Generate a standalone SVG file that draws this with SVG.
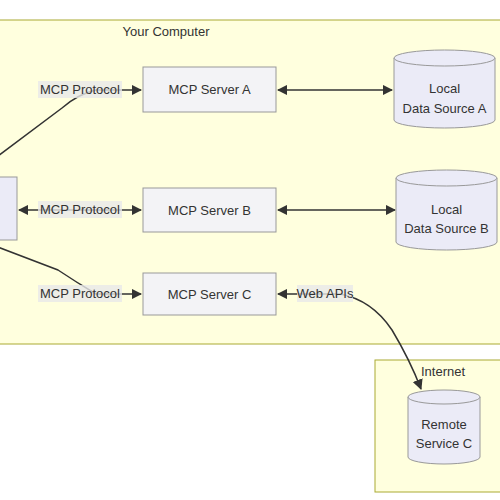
<svg xmlns="http://www.w3.org/2000/svg" width="500" height="500" viewBox="0 0 500 500">
<style>
text{font-family:"Liberation Sans",Arial,sans-serif;font-size:13px;fill:#333;text-anchor:middle;dominant-baseline:central}
.cluster{fill:#ffffde;stroke:#aaaa33;stroke-width:1}
.node{fill:#f3f3f6;stroke:#999;stroke-width:1}
.db{fill:#ebebf7;stroke:#999;stroke-width:1}
.edge{fill:none;stroke:#333;stroke-width:1.5}
.lbl{fill:#e8e8e8;fill-opacity:0.8;stroke:none}
</style>
<defs>
<marker id="end" viewBox="0 0 10 10" refX="9" refY="5" markerWidth="7" markerHeight="7" orient="auto"><path d="M0,0 L10,5 L0,10 z" fill="#333"/></marker>
<marker id="start" viewBox="0 0 10 10" refX="1" refY="5" markerWidth="7" markerHeight="7" orient="auto"><path d="M10,0 L0,5 L10,10 z" fill="#333"/></marker>
</defs>
<rect width="500" height="500" fill="#fff"/>
<g id="cluster-computer">
<rect class="cluster" x="-5" y="20" width="515" height="324"/>
<text x="166" y="31">Your Computer</text>
</g>
<g id="cluster-internet">
<rect class="cluster" x="375" y="360" width="135" height="132"/>
<text x="443" y="371">Internet</text>
</g>
<g id="connectors">
<path class="edge" d="M-10,162 L62,108 Q78,94 96,90 L141,90" marker-end="url(#end)"/>
<path class="edge" d="M19,210 L141,210" marker-start="url(#start)" marker-end="url(#end)"/>
<path class="edge" d="M-10,244 L58,270 Q76,282 96,294 L141,294" marker-end="url(#end)"/>
<path class="edge" d="M278,90 L392,90" marker-start="url(#start)" marker-end="url(#end)"/>
<path class="edge" d="M278,210 L395,210" marker-start="url(#start)" marker-end="url(#end)"/>
<path class="edge" d="M278,294 L340,294 Q372,300 392,330 Q410,360 421,389" marker-start="url(#start)" marker-end="url(#end)"/>
<rect class="lbl" x="38" y="81" width="84" height="17"/>
<text x="80" y="89.5">MCP Protocol</text>
<rect class="lbl" x="38" y="201" width="84" height="17"/>
<text x="80" y="209.5">MCP Protocol</text>
<rect class="lbl" x="38" y="285" width="84" height="17"/>
<text x="80" y="293.5">MCP Protocol</text>
<rect class="lbl" x="297" y="285" width="56" height="17"/>
<text x="325" y="293.5">Web APIs</text>
</g>
<g id="host">
<rect class="db" x="-10" y="177" width="27" height="63"/>
</g>
<g id="serverA">
<rect class="node" x="143" y="67" width="133" height="45"/>
<text x="209.5" y="89.5">MCP Server A</text>
</g>
<g id="serverB">
<rect class="node" x="143" y="188" width="133" height="44"/>
<text x="209.5" y="210">MCP Server B</text>
</g>
<g id="serverC">
<rect class="node" x="143" y="273" width="133" height="42"/>
<text x="209.5" y="294">MCP Server C</text>
</g>
<g id="dataA">
<path class="db" d="M394,58 a50.5,8 0 0 1 101,0 v62 a50.5,8 0 0 1 -101,0 z"/>
<path class="db" d="M394,58 a50.5,8 0 0 0 101,0" fill="none"/>
<text x="444.5" y="88">Local</text>
<text x="444.5" y="108">Data Source A</text>
</g>
<g id="dataB">
<path class="db" d="M396,178 a50.5,8 0 0 1 101,0 v64 a50.5,8 0 0 1 -101,0 z"/>
<path class="db" d="M396,178 a50.5,8 0 0 0 101,0" fill="none"/>
<text x="446.5" y="209">Local</text>
<text x="446.5" y="228">Data Source B</text>
</g>
<g id="remoteC">
<path class="db" d="M408,397 a36,7 0 0 1 72,0 v60 a36,7 0 0 1 -72,0 z"/>
<path class="db" d="M408,397 a36,7 0 0 0 72,0" fill="none"/>
<text x="444" y="424">Remote</text>
<text x="444" y="443">Service C</text>
</g>
</svg>
